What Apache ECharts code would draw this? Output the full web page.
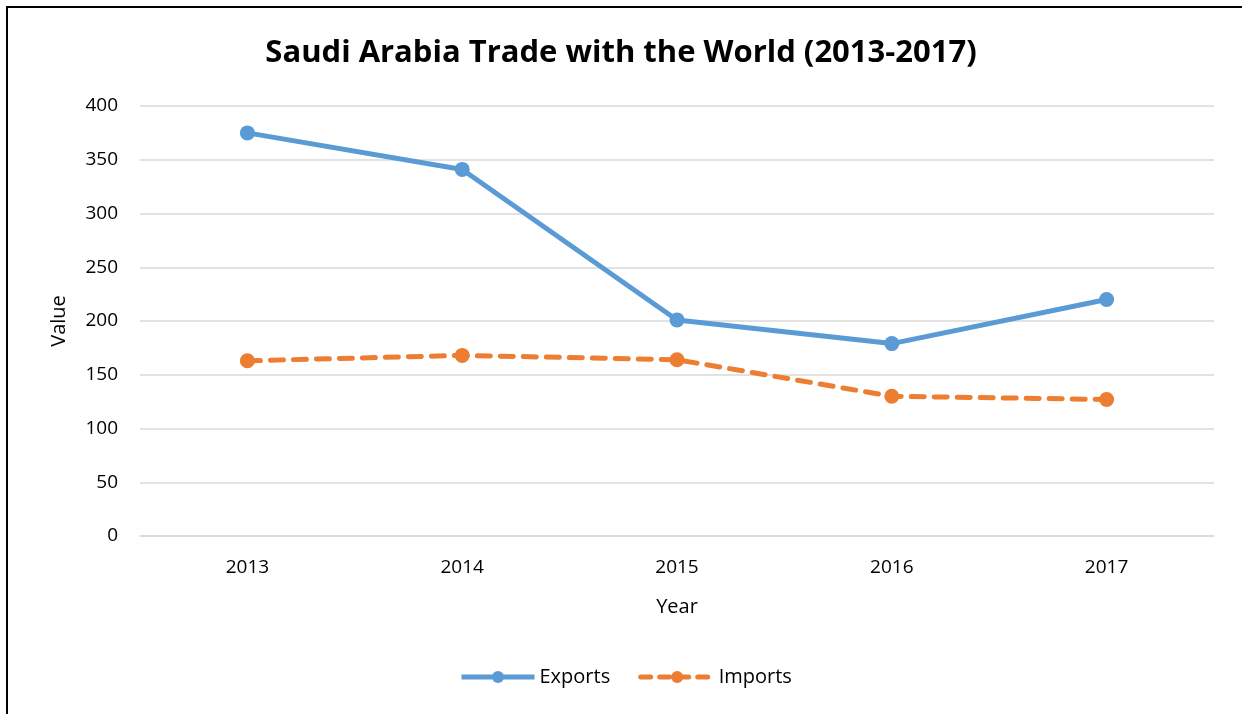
<!DOCTYPE html>
<html>
<head>
<meta charset="utf-8">
<title>Saudi Arabia Trade with the World</title>
<script src="https://cdn.jsdelivr.net/npm/echarts@6/dist/echarts.min.js"></script>
<style>
  html, body { margin: 0; padding: 0; background: #fff; overflow: hidden; }
  .frame {
    position: absolute; left: 6px; top: 6px;
    width: 1300px; height: 800px;
    border-left: 2px solid #000; border-top: 2px solid #000;
  }
  #chart { position: absolute; left: 0; top: 0; width: 1242px; height: 714px; }
</style>
</head>
<body>
<div class="frame"></div>
<div id="chart"></div>
<script>
// 数据
const years = ['2013', '2014', '2015', '2016', '2017'];
const exportsData = [375, 341, 201, 179, 220];
const importsData = [163, 168, 164, 130, 127];

const FONT = '"Open Sans", "Liberation Sans", sans-serif';
const BLUE = '#5b9bd5';
const ORANGE = '#ed7d31';
const importsDash = [13, 10];

const myChart = echarts.init(document.getElementById('chart'), null, { renderer: 'canvas' });

const option = {
  backgroundColor: 'transparent',
  animation: false,
  title: {
    text: 'Saudi Arabia Trade with the World (2013-2017)',
    left: 'center',
    top: 33,
    textStyle: { color: '#000', fontSize: 31, fontWeight: 'bold', fontFamily: FONT }
  },
  grid: { left: 140, right: 28, top: 106, bottom: 178 },
  legend: {
    bottom: 22,
    left: 454,
    itemWidth: 73,
    itemHeight: 15,
    itemGap: 28,
    textStyle: { color: '#000', fontSize: 20, fontFamily: FONT },
    data: [
      { name: 'Exports', lineStyle: { width: 5, color: BLUE } },
      { name: 'Imports', lineStyle: { width: 5, color: ORANGE, type: [10, 9], cap: 'round' } }
    ]
  },
  xAxis: {
    type: 'category',
    data: years,
    name: 'Year',
    nameLocation: 'middle',
    nameGap: 61,
    nameTextStyle: { color: '#000', fontSize: 20, fontFamily: FONT },
    axisLine: { show: true, lineStyle: { color: '#d9d9d9', width: 1.5 } },
    axisTick: { show: false },
    axisLabel: { color: '#000', fontSize: 19, fontFamily: FONT, margin: 22 }
  },
  yAxis: {
    type: 'value',
    min: 0,
    max: 400,
    interval: 50,
    name: 'Value',
    nameLocation: 'middle',
    nameGap: 71,
    nameTextStyle: { color: '#000', fontSize: 20, fontFamily: FONT },
    axisLine: { show: false },
    axisTick: { show: false },
    axisLabel: { color: '#000', fontSize: 19, fontFamily: FONT, margin: 22 },
    splitLine: { lineStyle: { color: '#d9d9d9', width: 1.5 } }
  },
  series: [
    {
      name: 'Exports',
      type: 'line',
      data: exportsData,
      symbol: 'circle',
      symbolSize: 15,
      itemStyle: { color: BLUE },
      lineStyle: { color: BLUE, width: 5 }
    },
    {
      name: 'Imports',
      type: 'line',
      data: importsData,
      symbol: 'circle',
      symbolSize: 15,
      itemStyle: { color: ORANGE },
      lineStyle: { color: ORANGE, width: 5, type: importsDash, cap: 'round' }
    }
  ]
};

myChart.setOption(option);
window.addEventListener('resize', () => myChart.resize());
</script>
</body>
</html>
